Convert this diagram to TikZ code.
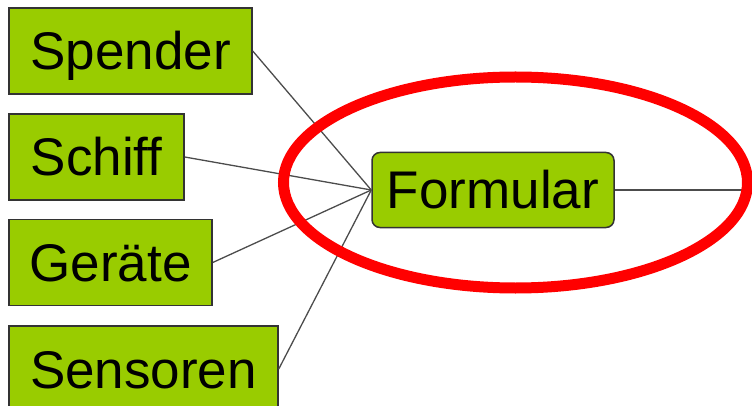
\documentclass[tikz,border=0pt]{standalone}
\usepackage{fontspec}
\setmainfont{Liberation Sans}
\definecolor{leaf}{HTML}{99CC00}
\definecolor{ring}{HTML}{FF0000}
\definecolor{edge}{HTML}{333333}

\begin{document}
\begin{tikzpicture}[x=1pt, y=-1pt,
    box/.style={draw=edge, line width=1.5pt, fill=leaf, inner sep=0pt,
        minimum height=86pt, text height=38pt, text depth=0pt,
        font=\fontsize{53}{60}\selectfont},
    link/.style={draw=black!70, line width=1.3pt}]
\useasboundingbox (0, 0) rectangle (752, 406);

\node[box, minimum width=243pt] (spender) at (130.5, 51) {Spender};
\node[box, minimum width=175pt] (schiff) at (96.5, 157) {Schiff};
\node[box, minimum width=203pt] (geraete) at (110.5, 262.5) {Geräte};
\node[box, minimum width=269pt] (sensoren) at (143.5, 369) {Sensoren};

\node[box, rounded corners=8pt, minimum width=242pt, minimum height=75pt]
    (formular) at (493, 190) {Formular};
\coordinate (rechts) at (752, 190);

\draw[link] (spender.east) -- (formular.west);
\draw[link] (schiff.east) -- (formular.west);
\draw[link] (geraete.east) -- (formular.west);
\draw[link] (sensoren.east) -- (formular.west);
\draw[link] (formular.east) -- (rechts);

\draw[ring, line width=11pt]
    (515.5, 182.5) ellipse [x radius=232pt, y radius=105.5pt];
\end{tikzpicture}
\end{document}
